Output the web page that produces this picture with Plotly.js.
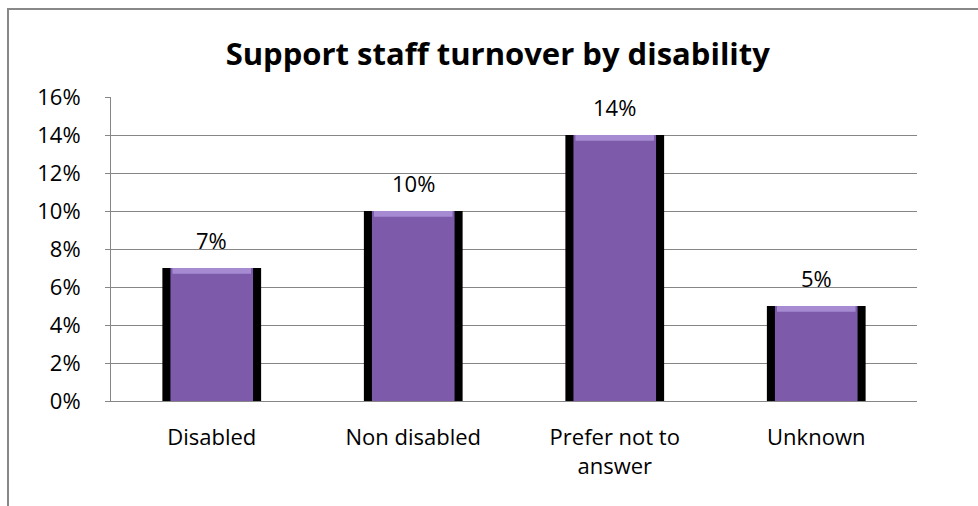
<!DOCTYPE html>
<html>
<head>
<meta charset="utf-8">
<script src="https://cdn.plot.ly/plotly-3.0.1.min.js"></script>
<style>html,body{margin:0;padding:0;background:#fff;}#chart{width:978px;height:506px;}</style>
</head>
<body>
<div id="chart"></div>
<script>
var categories = ["Disabled", "Non disabled", "Prefer not to<br>answer", "Unknown"];
var turnover = [0.07, 0.10, 0.14, 0.05];
var labels = ["7%", "10%", "14%", "5%"];
var yTickVals = [0, 0.02, 0.04, 0.06, 0.08, 0.10, 0.12, 0.14, 0.16];
var yTickText = ["0%", "2%", "4%", "6%", "8%", "10%", "12%", "14%", "16%"];
var chartTitle = "Support staff turnover by disability";

var FONT = "Open Sans, Noto Sans, sans-serif";
var hl = 0.003;

var traces = [
  {type: "bar", x: categories, y: turnover, width: 0.49, marker: {color: "#000000", line: {width: 0}}, hoverinfo: "skip"},
  {type: "bar", x: categories, y: turnover, width: 0.41, marker: {color: "#7d5aaa", line: {width: 0}}},
  {type: "bar", x: categories, y: turnover.map(function(){return hl;}), base: turnover.map(function(v){return v - hl;}), width: 0.39,
   marker: {color: "#a68bd2", line: {width: 0}}, hoverinfo: "skip"}
];

var annotations = categories.map(function(c, i){
  return {x: c, y: turnover[i], text: labels[i], showarrow: false, xanchor: "center", yanchor: "bottom", yshift: 11,
          font: {family: FONT, size: 22, color: "#000"}};
});

var layout = {
  width: 978, height: 506,
  margin: {l: 111, r: 61, t: 97, b: 105},
  paper_bgcolor: "#fff", plot_bgcolor: "#fff",
  barmode: "overlay",
  showlegend: false,
  title: {text: "<b>" + chartTitle + "</b>", font: {family: FONT, size: 31, color: "#000"},
          x: 0.509, xanchor: "center", xref: "container", y: 0.893, yref: "container", yanchor: "middle"},
  xaxis: {type: "category", showline: true, linecolor: "#868686", linewidth: 1, ticks: "", showgrid: false,
          tickfont: {family: FONT, size: 22, color: "#000"}, ticklabelstandoff: 17, zeroline: false},
  yaxis: {range: [0, 0.16], tickvals: yTickVals, ticktext: yTickText, showline: true, linecolor: "#868686", linewidth: 1,
          ticks: "outside", ticklen: 5, tickcolor: "#868686", showgrid: true, gridcolor: "#868686", gridwidth: 1,
          tickfont: {family: FONT, size: 22, color: "#000"}, ticklabelstandoff: 20, zeroline: false},
  annotations: annotations,
  shapes: [{type: "rect", xref: "paper", yref: "paper", x0: (8 - 111) / 806, x1: 1.2, y0: -0.5, y1: (401 - 9) / 304,
            line: {color: "#888888", width: 2}, fillcolor: "rgba(0,0,0,0)", layer: "below"}]
};

Plotly.newPlot("chart", traces, layout, {displayModeBar: false, staticPlot: true});
</script>
</body>
</html>
